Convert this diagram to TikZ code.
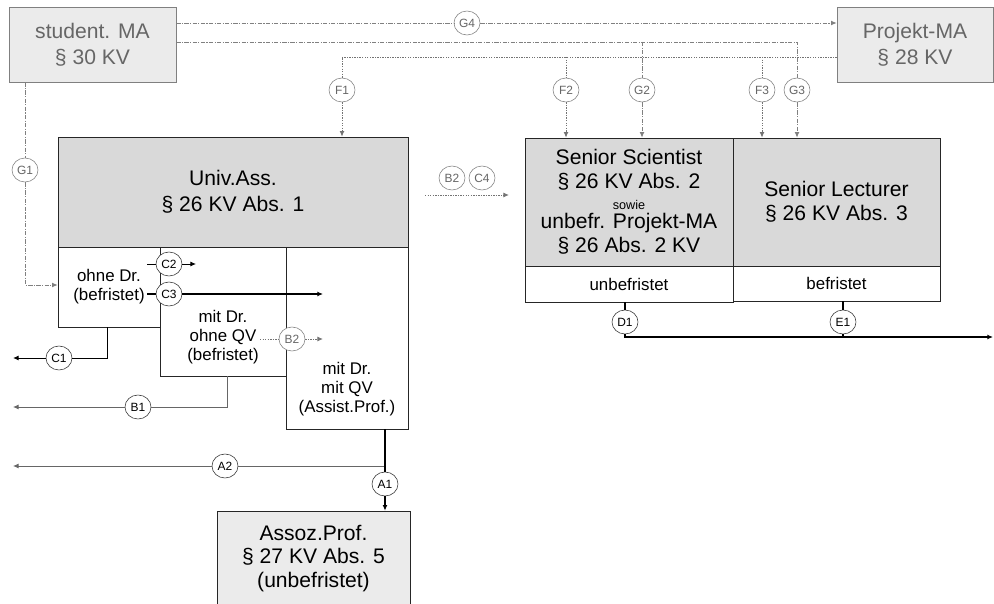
\documentclass[tikz,border=0pt]{standalone}
\usepackage{fontspec}
\setmainfont{Liberation Sans}
\usetikzlibrary{shapes.geometric, arrows.meta, positioning}

\definecolor{lightfill}{HTML}{EBEBEB}
\definecolor{midfill}{HTML}{D9D9D9}
\definecolor{greytext}{HTML}{666666}
\definecolor{greyline}{HTML}{808080}

\newcommand{\bigfont}{\fontsize{15}{18.5}\selectfont}
\newcommand{\boxfont}{\fontsize{15}{17}\selectfont}
\newcommand{\smallfont}{\fontsize{12}{13.5}\selectfont}
\newcommand{\badgefont}{\fontsize{8.5}{9}\selectfont}

\begin{document}
\begin{tikzpicture}[
    x=0.025cm, y=-0.025cm,
    box/.style={rectangle, draw=black!85, inner sep=0pt, align=center},
    outerbox/.style={box, draw=greyline, fill=lightfill, text=greytext, font=\bigfont, minimum height=1.875cm},
    mainbox/.style={box, fill=midfill, font=\bigfont},
    subbox/.style={box, fill=white, font=\smallfont},
    badge/.style={ellipse, draw=black!80, fill=white, minimum width=0.65cm, minimum height=0.6cm, inner sep=0pt, font=\badgefont},
    gbadge/.style={badge, draw=greyline, text=greytext},
    arrow/.style={-{Latex[length=4pt,width=3.5pt]}},
    solidline/.style={draw=black, line width=0.9pt},
    thinline/.style={draw=black!60, line width=0.6pt},
    gline/.style={draw=greyline, line width=0.7pt, dash pattern=on 3pt off 1pt on 0.8pt off 1pt},
    fline/.style={draw=black!55, line width=0.7pt, dash pattern=on 1pt off 0.8pt}
]
    \useasboundingbox (0,0) rectangle (994,604);

    % boxes
    \node[outerbox, minimum width=4.175cm] (student) at (92.5,44.5) {student. MA\\§ 30 KV};
    \node[outerbox, minimum width=3.9cm] (projekt) at (915,44.5) {Projekt-MA\\§ 28 KV};
    \node[mainbox, minimum width=8.75cm, minimum height=2.75cm] (univ) at (233,192) {Univ.Ass.\\§ 26 KV Abs. 1};
    \node[subbox, minimum width=2.55cm, minimum height=2cm] (ohne) at (109,287) {ohne Dr.\\(befristet)};
    \node[subbox, minimum width=3.15cm, minimum height=3.225cm] (mitohne) at (223,311.5) {};
    \node[font=\smallfont, align=center] (mitohnetxt) at (223,337) {mit Dr.\\ohne QV\\(befristet)};
    \node[subbox, minimum width=3.05cm, minimum height=4.55cm] (mitqv) at (347,338) {};
    \node[font=\smallfont, align=center] (mitqvtxt) at (347,389) {mit Dr.\\mit QV\\(Assist.Prof.)};
    \node[mainbox, font=\boxfont, minimum width=5.2cm, minimum height=3.2cm] (sci) at (629,202)
        {Senior Scientist\\§ 26 KV Abs. 2\\[-2pt]{\fontsize{9}{10}\selectfont sowie}\\[-3.5pt]unbefr. Projekt-MA\\§ 26 Abs. 2 KV};
    \node[mainbox, font=\boxfont, minimum width=5.175cm, minimum height=3.2cm] (lect) at (836.5,202) {Senior Lecturer\\§ 26 KV Abs. 3};
    \node[subbox, minimum width=5.2cm, minimum height=0.9cm] (unbef) at (629,284) {unbefristet};
    \node[subbox, minimum width=5.175cm, minimum height=0.875cm] (bef) at (836.5,283.5) {befristet};
    \node[mainbox, fill=lightfill, font=\boxfont, minimum width=4.825cm, minimum height=2.375cm] (assoz) at (313.5,558.5)
        {Assoz.Prof.\\§ 27 KV Abs. 5\\(unbefristet)};

    % badges
    \node[gbadge] (G4) at (467,23) {G4};
    \node[gbadge] (G1) at (25,170) {G1};
    \node[gbadge] (F1) at (342,90) {F1};
    \node[gbadge] (F2) at (566,90) {F2};
    \node[gbadge] (G2) at (642,90) {G2};
    \node[gbadge] (F3) at (762,90) {F3};
    \node[gbadge] (G3) at (797,90) {G3};
    \node[gbadge] (B2top) at (452,178) {B2};
    \node[gbadge] (C4) at (482,178) {C4};
    \node[badge] (C2) at (169,264) {C2};
    \node[badge] (C3) at (169,294) {C3};
    \node[gbadge] (B2) at (292,339) {B2};
    \node[badge] (C1) at (59,358) {C1};
    \node[badge] (B1) at (138,407) {B1};
    \node[badge] (A2) at (225,466) {A2};
    \node[badge] (A1) at (385,484) {A1};
    \node[badge] (D1) at (625,322) {D1};
    \node[badge] (E1) at (843,322) {E1};

    % turning points and free ends
    \coordinate (gturn) at (797,42);
    \coordinate (gsplit) at (642,42);
    \coordinate (fturn) at (342,57);
    \coordinate (g1turn) at (25,285);
    \coordinate (c2start) at (147,264);
    \coordinate (c2end) at (196,264);
    \coordinate (c3start) at (147,294);
    \coordinate (c3end) at (323,294);
    \coordinate (c1turn) at (107,358);
    \coordinate (c1end) at (13,358);
    \coordinate (b1turn) at (227,407);
    \coordinate (b1end) at (13,407);
    \coordinate (a2start) at (385,466);
    \coordinate (a2end) at (13,466);
    \coordinate (b2start) at (260,339);
    \coordinate (b2end) at (323,339);
    \coordinate (b2c4start) at (425,195);
    \coordinate (b2c4end) at (509,195);
    \coordinate (dturn) at (625,337);
    \coordinate (dend) at (993,337);

    % connectors
    \draw[gline, arrow] (student.east |- G4) -- (G4) -- (projekt.west |- G4);
    \draw[gline, arrow] (student.east |- gturn) -- (gturn) -- (G3) -- (G3 |- lect.north);
    \draw[gline, arrow] (gsplit) -- (G2) -- (G2 |- sci.north);
    \draw[fline, arrow] (projekt.west |- fturn) -- (fturn) -- (F1) -- (F1 |- univ.north);
    \draw[fline, arrow] (F2 |- fturn) -- (F2) -- (F2 |- sci.north);
    \draw[fline, arrow] (F3 |- fturn) -- (F3) -- (F3 |- lect.north);
    \draw[gline, arrow] (student.south -| G1) -- (G1) -- (g1turn) -- (ohne.west |- g1turn);

    \draw[solidline, line width=0.6pt, arrow] (c2start) -- (C2) -- (c2end);
    \draw[solidline, arrow] (c3start) -- (C3) -- (c3end);
    \draw[solidline, line width=0.7pt, arrow] (ohne.south -| c1turn) -- (c1turn) -- (C1) -- (c1end);
    \draw[thinline, arrow] (mitohne.south -| b1turn) -- (b1turn) -- (B1) -- (b1end);
    \draw[fline, arrow] (b2start) -- (B2) -- (b2end);
    \draw[thinline, arrow] (a2start) -- (A2) -- (a2end);
    \draw[solidline, arrow] (mitqv.south -| A1) -- (A1) -- (A1 |- assoz.north);
    \draw[fline, arrow] (b2c4start) -- (b2c4end);
    \draw[solidline, arrow] (unbef.south -| D1) -- (D1) -- (dturn) -- (dend);
    \draw[solidline] (bef.south -| E1) -- (E1) -- (E1 |- dturn);
\end{tikzpicture}
\end{document}
